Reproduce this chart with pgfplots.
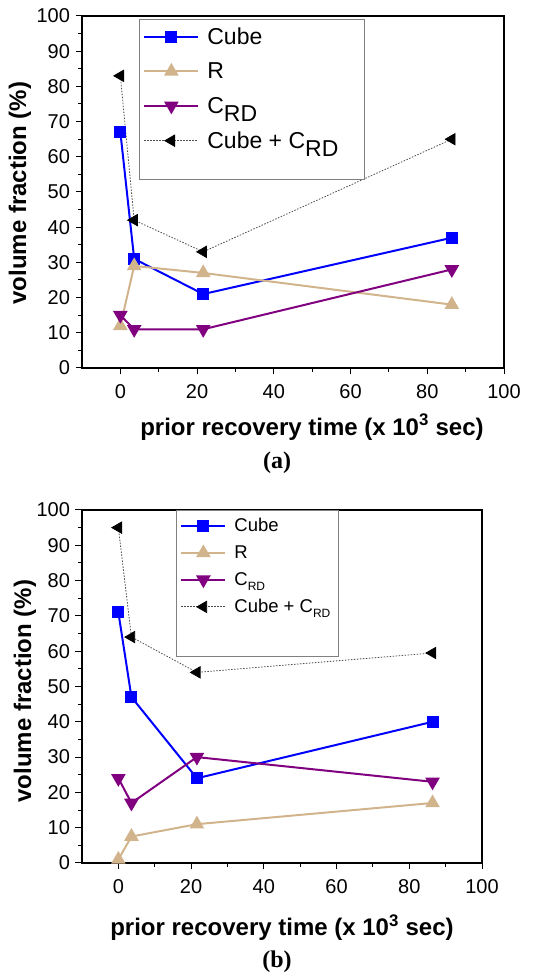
\documentclass[border=0pt]{standalone}
\usepackage{pgfplots}
\pgfplotsset{compat=1.18}
\usepackage{fontspec}
\setmainfont{Liberation Sans}
\newfontfamily\timesfont{Liberation Serif}
\definecolor{cubeblue}{RGB}{0,0,255}
\definecolor{rtan}{RGB}{210,180,140}
\definecolor{crdpurple}{RGB}{128,0,128}
\pgfplotsset{
  panel/.style={
    scale only axis,
    xmin=-10, xmax=100, ymin=0, ymax=100,
    xtick={0,20,...,100}, ytick={0,10,...,100},
    minor x tick num=1, minor y tick num=1,
    tick align=outside, tickpos=left,
    major tick length=6.5pt, minor tick length=4pt,
    every tick/.style={black, line width=1pt},
    axis line style={line width=1.2pt},
    tick label style={font=\fontsize{20}{22}\selectfont},
    xticklabel style={yshift=-7pt},
    yticklabel style={xshift=-2pt},
    /pgf/number format/assume math mode=true,
    label style={font=\bfseries\fontsize{24}{26}\selectfont},
    clip=false,
    legend cell align=left,
  },
  cubes/.style={cubeblue, line width=2pt, mark=square*, mark size=5pt, mark options={solid}},
  rs/.style={rtan, line width=2pt, mark=triangle*, mark size=6.5pt, mark options={solid}},
  crds/.style={crdpurple, line width=2pt, mark=triangle*, mark size=6.5pt, mark options={solid, rotate=180}},
  sums/.style={black!70, line width=0.8pt, dash pattern=on 1.5pt off 1.5pt, mark=triangle*, mark size=6.5pt, mark options={solid, draw=black, fill=black, rotate=90}},
}
\begin{document}
\begin{tikzpicture}
\useasboundingbox (0,0) rectangle (542pt,977pt);
% panel (a)
\begin{axis}[panel,
  at={(82pt,609pt)}, anchor=south west,
  width=422pt, height=352pt,
  xlabel={prior recovery time (x 10\textsuperscript{3} sec)},
  ylabel={volume fraction (\%)},
  xlabel style={at={(axis description cs:0.545,-0.168)}, anchor=center},
  ylabel style={at={(axis description cs:-0.147,0.497)}, anchor=center},
  legend style={at={(0.135,0.991)}, anchor=north west, draw=gray, line width=0.8pt,
    font=\fontsize{23}{26}\selectfont, row sep=13pt, inner xsep=4pt, inner ysep=6pt,
    /tikz/every odd column/.append style={column sep=6pt}},
  legend image code/.code={\draw[mark repeat=2,mark phase=2] plot coordinates {(0pt,0pt)(27pt,0pt)(54pt,0pt)};},
]
\addplot[cubes] coordinates {(0,67) (3.6,31) (21.6,21) (86.4,37)};
\addlegendentry{Cube}
\addplot[rs] coordinates {(0,12) (3.6,29) (21.6,27) (86.4,18)};
\addlegendentry{R}
\addplot[crds] coordinates {(0,15) (3.6,11) (21.6,11) (86.4,28)};
\addlegendentry{C\raisebox{-8pt}{RD}\rule[-14pt]{0pt}{14pt}}
\addplot[sums] coordinates {(0,83) (3.6,42) (21.6,33) (86.4,65)};
\addlegendentry{Cube + C\raisebox{-8pt}{RD}\hspace*{20pt}}
\addlegendimage{empty legend}
\addlegendentry{\rule{0pt}{3pt}}
\end{axis}
% panel (b)
\begin{axis}[panel,
  at={(82pt,114pt)}, anchor=south west,
  width=400pt, height=353pt,
  xlabel={prior recovery time (x 10\textsuperscript{3} sec)},
  ylabel={volume fraction (\%)},
  xlabel style={at={(axis description cs:0.5,-0.184)}, anchor=center},
  ylabel style={at={(axis description cs:-0.1425,0.487)}, anchor=center},
  legend style={at={(0.235,1)}, anchor=north west, draw=gray, line width=0.8pt,
    font=\fontsize{18.5}{21}\selectfont, row sep=8.5pt, inner xsep=4pt, inner ysep=6pt,
    /tikz/every odd column/.append style={column sep=6pt}},
  legend image code/.code={\draw[mark repeat=2,mark phase=2] plot coordinates {(0pt,0pt)(22pt,0pt)(44pt,0pt)};},
]
\addplot[cubes] coordinates {(0,71) (3.6,47) (21.6,24) (86.4,40)};
\addlegendentry{Cube}
\addplot[rs] coordinates {(0,1) (3.6,7.5) (21.6,11) (86.4,17)};
\addlegendentry{R}
\addplot[crds] coordinates {(0,24) (3.6,17) (21.6,30) (86.4,23)};
\addlegendentry{C\raisebox{-0.5ex}{\fontsize{12}{12}\selectfont RD}}
\addplot[sums] coordinates {(0,95) (3.6,64) (21.6,54) (86.4,59.5)};
\addlegendentry{Cube + C\raisebox{-0.5ex}{\fontsize{12}{12}\selectfont RD}\hspace*{2pt}}
\addlegendimage{empty legend}
\addlegendentry{\rule{0pt}{20pt}}
\end{axis}
\node[font=\timesfont\bfseries\fontsize{24}{26}\selectfont] at (277pt,514pt) {(a)};
\node[font=\timesfont\bfseries\fontsize{24}{26}\selectfont] at (277pt,15pt) {(b)};
\end{tikzpicture}
\end{document}
